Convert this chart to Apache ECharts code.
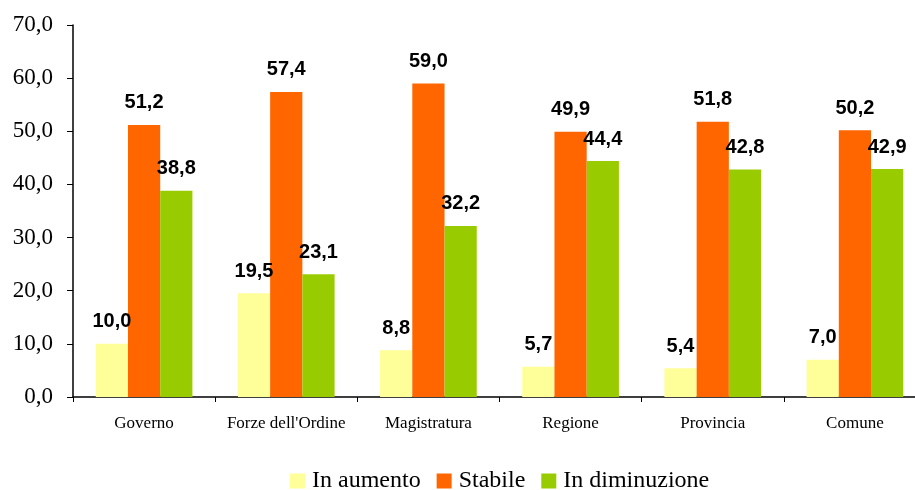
<!DOCTYPE html>
<html>
<head>
<meta charset="utf-8">
<script src="https://cdn.jsdelivr.net/npm/echarts@6/dist/echarts.min.js"></script>
<style>
  html, body { margin: 0; padding: 0; background: #fff; overflow: hidden; }
  #main { width: 940px; height: 490px; }
</style>
</head>
<body>
<div id="main"></div>
<script>
var categories = ['Governo', "Forze dell'Ordine", 'Magistratura', 'Regione', 'Provincia', 'Comune'];
var inAumento = [10.0, 19.5, 8.8, 5.7, 5.4, 7.0];
var stabile = [51.2, 57.4, 59.0, 49.9, 51.8, 50.2];
var inDiminuzione = [38.8, 23.1, 32.2, 44.4, 42.8, 42.9];

var myChart = echarts.init(document.getElementById('main'));

function fmt(v) {
    return v.toFixed(1).replace('.', ',');
}

var serif = 'Liberation Serif, Times New Roman, serif';

var labelStyle = {
    show: true,
    position: 'top',
    distance: 12,
    fontFamily: 'Liberation Sans, Arial, sans-serif',
    fontWeight: 'bold',
    fontSize: 20,
    color: '#000',
    formatter: function (p) { return fmt(p.value); }
};

var option = {
    animation: false,
    grid: { left: 73, right: 14, top: 25, bottom: 93 },
    legend: {
        top: 469,
        left: 290,
        padding: 0,
        itemWidth: 15,
        itemHeight: 15,
        itemGap: 16,
        icon: 'rect',
        textStyle: { fontFamily: serif, fontSize: 24, color: '#000', padding: [0, 0, 0, 2] },
        data: ['In aumento', 'Stabile', 'In diminuzione']
    },
    xAxis: {
        type: 'category',
        data: categories,
        axisLine: { lineStyle: { color: '#000', width: 1.5 } },
        axisTick: { show: true, interval: 0, length: 5, lineStyle: { color: '#000' } },
        axisLabel: { interval: 0, fontFamily: serif, fontSize: 17, color: '#000', margin: 18 }
    },
    yAxis: {
        type: 'value',
        min: 0,
        max: 70,
        interval: 10,
        splitLine: { show: false },
        axisLine: { show: true, lineStyle: { color: '#000', width: 1.5 } },
        axisTick: { show: true, inside: false, length: 6, lineStyle: { color: '#000' } },
        axisLabel: {
            fontFamily: serif,
            fontSize: 23,
            color: '#000',
            margin: 20,
            formatter: function (v) { return fmt(v); }
        }
    },
    series: [
        {
            name: 'In aumento', type: 'bar', data: inAumento,
            barGap: '0%', barCategoryGap: '32%',
            itemStyle: { color: '#FFFF99' }, label: labelStyle
        },
        {
            name: 'Stabile', type: 'bar', data: stabile,
            barGap: '0%', barCategoryGap: '32%',
            itemStyle: { color: '#FF6600' }, label: labelStyle
        },
        {
            name: 'In diminuzione', type: 'bar', data: inDiminuzione,
            barGap: '0%', barCategoryGap: '32%',
            itemStyle: { color: '#99CC00' }, label: labelStyle
        }
    ]
};

myChart.setOption(option);
</script>
</body>
</html>
